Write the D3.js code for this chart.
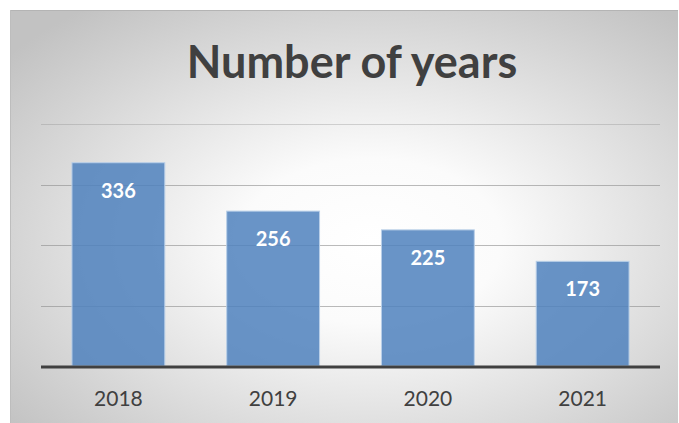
<!DOCTYPE html>
<html>
<head>
<meta charset="utf-8">
<script src="https://cdn.jsdelivr.net/npm/d3@7"></script>
<style>
  html, body { margin: 0; padding: 0; background: #fff; }
  svg { display: block; }
</style>
</head>
<body>
<svg id="chart" width="679" height="423"></svg>
<script>
const years = ["2018", "2019", "2020", "2021"];
const counts = [336, 256, 225, 173];
const gridTicks = [100, 200, 300, 400];

const width = 679, height = 423;
const svg = d3.select("#chart");

// radial background like the office chart style
const defs = svg.append("defs");
const grad = defs.append("radialGradient")
    .attr("id", "bg")
    .attr("cx", "54%").attr("cy", "55%")
    .attr("r", "70%");
grad.append("stop").attr("offset", "0").attr("stop-color", "#ffffff");
grad.append("stop").attr("offset", "0.28").attr("stop-color", "#fbfbfb");
grad.append("stop").attr("offset", "1").attr("stop-color", "#c2c2c2");

svg.append("rect")
    .attr("x", 10).attr("y", 10)
    .attr("width", 668).attr("height", 420)
    .attr("fill", "url(#bg)");
svg.append("line")
    .attr("x1", 10).attr("x2", 678).attr("y1", 10.5).attr("y2", 10.5)
    .attr("stroke", "#b4b4b4");
svg.append("line")
    .attr("x1", 10.5).attr("x2", 10.5).attr("y1", 10).attr("y2", 423)
    .attr("stroke", "#bdbdbd");

const plot = { left: 41, right: 660, top: 124, bottom: 366 };

const x = d3.scaleBand()
    .domain(years)
    .range([plot.left, plot.right])
    .paddingInner(0.4)
    .paddingOuter(0.2);

const y = d3.scaleLinear()
    .domain([0, 400])
    .range([plot.bottom, plot.top]);

// gridlines
svg.append("g").selectAll("line")
    .data(gridTicks)
    .join("line")
    .attr("x1", plot.left).attr("x2", plot.right)
    .attr("y1", d => Math.round(y(d)) + 0.5)
    .attr("y2", d => Math.round(y(d)) + 0.5)
    .attr("stroke", "#8c8c8c")
    .attr("stroke-opacity", d => d === 400 ? 0.35 : 0.6)
    .attr("stroke-width", 1.2);

// bars
svg.append("g").selectAll("rect")
    .data(counts)
    .join("rect")
    .attr("x", (d, i) => x(years[i]))
    .attr("y", d => y(d))
    .attr("width", x.bandwidth())
    .attr("height", d => y(0) - y(d))
    .attr("fill", "#4f81bd")
    .attr("fill-opacity", 0.85)
    .attr("stroke", "#b9cfe8")
    .attr("stroke-width", 1);

// value labels
svg.append("g").selectAll("text")
    .data(counts)
    .join("text")
    .attr("x", (d, i) => x(years[i]) + x.bandwidth() / 2)
    .attr("y", d => y(d) + 35)
    .attr("text-anchor", "middle")
    .attr("font-family", "Lato, 'Open Sans', sans-serif")
    .attr("font-weight", "bold")
    .attr("font-size", 20)
    .attr("fill", "#ffffff")
    .text(d => d);

// baseline
svg.append("line")
    .attr("x1", plot.left).attr("x2", plot.right)
    .attr("y1", plot.bottom + 1).attr("y2", plot.bottom + 1)
    .attr("stroke", "#404040")
    .attr("stroke-width", 3);

// category axis
const xAxis = svg.append("g")
    .attr("transform", `translate(0,${plot.bottom + 2})`)
    .call(d3.axisBottom(x).tickSize(0).tickPadding(23));
xAxis.select(".domain").remove();
xAxis.selectAll("text")
    .attr("font-family", "Lato, 'Open Sans', sans-serif")
    .attr("font-size", 21)
    .attr("fill", "#404040");

// title
svg.append("text")
    .attr("x", 352)
    .attr("y", 78)
    .attr("text-anchor", "middle")
    .attr("font-family", "Lato, 'Open Sans', sans-serif")
    .attr("font-weight", "bold")
    .attr("font-size", 45)
    .attr("fill", "#404040")
    .text("Number of years");
</script>
</body>
</html>
